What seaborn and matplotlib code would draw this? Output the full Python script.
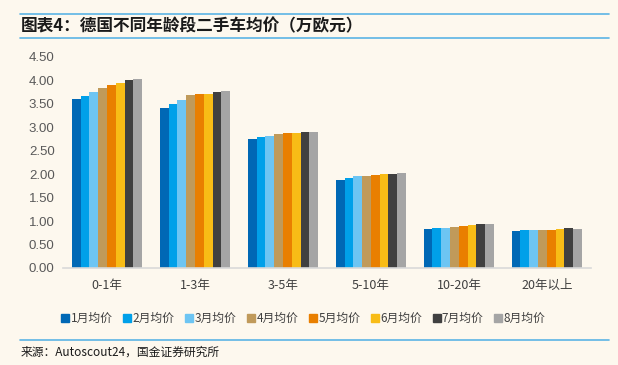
import numpy as np
import pandas as pd
import seaborn as sns
import matplotlib.pyplot as plt
from matplotlib.lines import Line2D

# 数据
age_groups = ['0-1年', '1-3年', '3-5年', '5-10年', '10-20年', '20年以上']
months = ['1月均价', '2月均价', '3月均价', '4月均价', '5月均价', '6月均价', '7月均价', '8月均价']
m1 = [3.60, 3.41, 2.75, 1.88, 0.83, 0.78]
m2 = [3.67, 3.50, 2.79, 1.92, 0.85, 0.80]
m3 = [3.76, 3.59, 2.81, 1.95, 0.86, 0.80]
m4 = [3.84, 3.69, 2.86, 1.97, 0.88, 0.80]
m5 = [3.91, 3.70, 2.87, 1.99, 0.90, 0.81]
m6 = [3.95, 3.72, 2.88, 2.01, 0.91, 0.82]
m7 = [4.00, 3.75, 2.89, 2.01, 0.93, 0.85]
m8 = [4.03, 3.77, 2.89, 2.03, 0.94, 0.83]
colores = ['#0068B5', '#00A0E9', '#6DC5F3', '#C09A5A', '#E97F00', '#F8BC16', '#404040', '#A5A5A5']

series = [m1, m2, m3, m4, m5, m6, m7, m8]
df = pd.DataFrame([
    {'age': a, 'month': m, 'price': v}
    for m, vals in zip(months, series)
    for a, v in zip(age_groups, vals)
])

bg = '#FDF8EE'
sns.set_theme(style='white')
plt.rcParams['font.family'] = ['Noto Sans CJK SC', 'DejaVu Sans']

fig = plt.figure(figsize=(6.18, 3.65), dpi=100, facecolor=bg)
ax = fig.add_axes([0.102, 0.266, 0.854, 0.578], facecolor=bg)

sns.barplot(data=df, x='age', y='price', hue='month', palette=colores,
            width=0.8, saturation=1, ax=ax, legend=False, linewidth=0)

ax.set_ylim(0, 4.5)
ax.set_xlim(-0.5, 5.5)
ax.set_yticks(np.arange(0, 4.51, 0.5))
ax.set_yticklabels([f'{v:.2f}' for v in np.arange(0, 4.51, 0.5)],
                   family=['Liberation Sans', 'DejaVu Sans'])
ax.tick_params(axis='y', labelsize=9.5, labelcolor='#595959', length=0, pad=6)
ax.tick_params(axis='x', labelsize=9, labelcolor='#404040', length=0, pad=8)
ax.set_xticks(np.arange(-0.5, 6, 1), minor=True)
ax.tick_params(axis='x', which='minor', length=4, color='#D9D9D9', width=1)
ax.set_xlabel('')
ax.set_ylabel('')
for s in ['top', 'right', 'left']:
    ax.spines[s].set_visible(False)
ax.spines['bottom'].set_color('#D9D9D9')
ax.spines['bottom'].set_linewidth(1.2)

# 图例
handles = [Line2D([0], [0], marker='s', linestyle='', markersize=6,
                  markerfacecolor=c, markeredgecolor=c) for c in colores]
fig.legend(handles, months, loc='center left', bbox_to_anchor=(0.1, 0.128), ncol=8,
           frameon=False, fontsize=8.5, handlelength=0.6, handletextpad=0.15,
           columnspacing=0.95, labelcolor='#404040', borderaxespad=0, borderpad=0)

# 标题与来源
fig.add_artist(Line2D([0.032, 0.985], [0.962, 0.962], color='#5BB4E5', lw=1.2))
fig.add_artist(Line2D([0.032, 0.985], [0.896, 0.896], color='#5BB4E5', lw=1.2))
fig.text(0.034, 0.929, '图表4：德国不同年龄段二手车均价（万欧元）', fontsize=12,
         fontweight='bold', va='center', ha='left', color='#1a1a1a')
fig.add_artist(Line2D([0.032, 0.985], [0.068, 0.068], color='#5BB4E5', lw=1.2))
fig.text(0.034, 0.035, '来源：Autoscout24，国金证券研究所', fontsize=8.5,
         va='center', ha='left', color='#1a1a1a')

fig.savefig('out.png', dpi=100, facecolor=bg)
